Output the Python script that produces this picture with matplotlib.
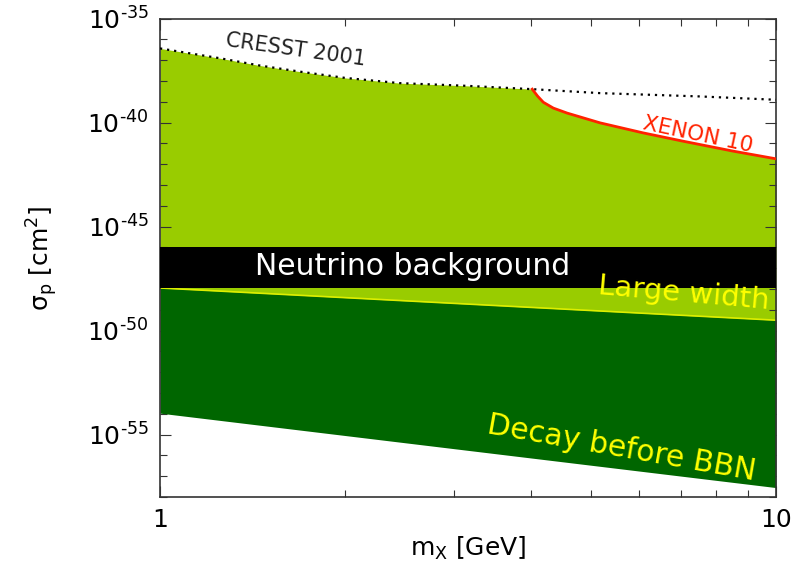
import numpy as np
import matplotlib.pyplot as plt
from matplotlib.ticker import FixedLocator, NullFormatter

plt.rcParams['font.family'] = ['DejaVu Sans']
plt.rcParams['mathtext.fontset'] = 'dejavusans'

# CRESST 2001 limit (log10 of cross section in cm^2)
cresst_m = [1.0, 1.12, 1.25, 1.45, 1.69, 2.0, 2.45, 3.15, 4.02, 5.18, 7.53, 10.0]
cresst_logs = [-36.43, -36.67, -36.90, -37.25, -37.55, -37.85, -38.10, -38.23, -38.39,
               -38.58, -38.74, -38.90]

# XENON 10 limit
xenon_m = [4.02, 4.1, 4.19, 4.35, 4.58, 5.18, 6.08, 7.06, 8.52, 10.0]
xenon_logs = [-38.39, -38.72, -39.02, -39.30, -39.54, -40.01, -40.49, -40.89, -41.37, -41.74]

# neutrino background band
nu_top, nu_bottom = -46.0, -47.95

# large width boundary and BBN decay boundary (straight in log-log)
edge_m = [1.0, 10.0]
width_logs = [-47.95, -49.5]
bbn_logs = [-53.97, -57.55]

ytick_exps = [-55, -50, -45, -40, -35]


def main():
    fig = plt.figure(figsize=(7.98, 5.66), dpi=100)
    ax = fig.add_axes([0.2005, 0.122, 0.772, 0.845])
    ax.set_xscale('log')
    ax.set_yscale('log')

    cresst = 10.0 ** np.array(cresst_logs)
    xenon = 10.0 ** np.array(xenon_logs)

    # upper envelope of the allowed region
    split = cresst_m.index(4.02)
    top_m = np.array(cresst_m[:split] + xenon_m)
    top_y = np.concatenate([cresst[:split], xenon])

    light = '#99cc00'
    dark = '#006600'

    ax.fill_between(top_m, 1e-51, top_y, color=light, lw=0, zorder=1)

    m = np.array(edge_m)
    width_y = 10.0 ** np.array(width_logs)
    bbn_y = 10.0 ** np.array(bbn_logs)
    ax.fill_between(m, bbn_y, width_y, color=dark, lw=0, zorder=2)
    ax.plot(m, width_y, color='#ddee00', lw=1.2, zorder=2.5)

    ax.axhspan(10.0 ** nu_bottom, 10.0 ** nu_top, color='black', lw=0, zorder=3)

    ax.plot(cresst_m, cresst, linestyle=(0, (1, 2.2)), color='black', lw=1.6, zorder=4)
    ax.plot(xenon_m, xenon, color='#ff2200', lw=2, zorder=4)

    # labels on the plot
    ax.text(1.66, 10 ** -36.5, 'CRESST 2001', fontsize=15, color='#222222',
            rotation=-8, ha='center', va='center', zorder=5)
    ax.text(7.47, 10 ** -40.57, 'XENON 10', fontsize=15.5, color='#ff2200',
            rotation=-12, ha='center', va='center', zorder=5)
    ax.text(2.57, 10 ** -46.9, 'Neutrino background', fontsize=21.5, color='white',
            ha='center', va='center', zorder=5)
    ax.text(7.07, 10 ** -48.23, 'Large width', fontsize=21, color='#ffff00',
            rotation=-5, ha='center', va='center', zorder=5)
    ax.text(5.62, 10 ** -55.64, 'Decay before BBN', fontsize=21.5, color='#ffff00',
            rotation=-10, ha='center', va='center', zorder=5)

    ax.set_xlim(1, 10)
    ax.set_ylim(1e-58, 1e-35)

    ax.xaxis.set_major_locator(FixedLocator([1, 10]))
    ax.set_xticklabels(['1', '10'])
    ax.xaxis.set_minor_locator(FixedLocator(range(2, 10)))
    ax.xaxis.set_minor_formatter(NullFormatter())

    ax.yaxis.set_major_locator(FixedLocator([10.0 ** e for e in ytick_exps]))
    ax.set_yticklabels([r'$10^{\text{%d}}$' % e for e in ytick_exps])
    ax.yaxis.set_minor_locator(FixedLocator([10.0 ** e for e in range(-58, -34)]))
    ax.yaxis.set_minor_formatter(NullFormatter())

    ax.tick_params(which='both', direction='in', top=True, right=True,
                   color='#333333', width=0.8)
    ax.tick_params(which='major', length=8, labelsize=18, pad=8)
    ax.tick_params(which='minor', length=5)
    for s in ax.spines.values():
        s.set_color('#333333')
        s.set_linewidth(1.2)

    ax.set_xlabel(r'm$_{\mathrm{X}}$ [GeV]', fontsize=18, labelpad=2)
    ax.set_ylabel(r'σ$_{\mathrm{p}}$ [cm$^2$]', fontsize=18, labelpad=20)

    fig.savefig('out.png', dpi=100)


if __name__ == '__main__':
    main()
